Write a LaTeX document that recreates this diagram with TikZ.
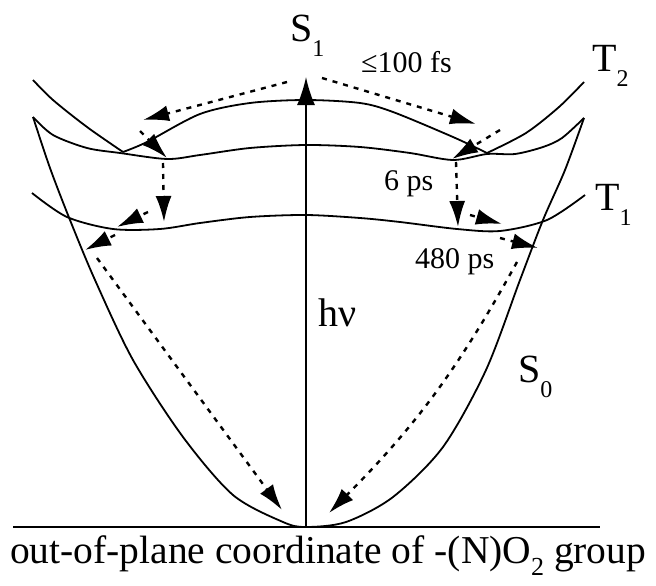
\documentclass[tikz,border=0pt]{standalone}
\usepackage{fontspec}
\setmainfont{Liberation Serif}
\usepackage{tikz}
\usetikzlibrary{arrows.meta}
\newcommand{\stlbl}[2]{#1\raisebox{-15pt}{\fontsize{24}{24}\selectfont #2}}

\begin{document}
\begin{tikzpicture}[x=1pt, y=-1pt,
  pes/.style={line width=1.8pt, line join=round},
  decay/.style={line width=2.4pt, dash pattern=on 5pt off 6pt, -{Latex[length=26pt,width=16pt]}},
  big/.style={font=\rmfamily\fontsize{40}{44}\selectfont, inner sep=0pt, anchor=base west},
  small/.style={font=\rmfamily\fontsize{30}{34}\selectfont, inner sep=0pt, anchor=base west}]
\useasboundingbox (0,0) rectangle (656,586);
% potential energy curves
\draw[pes] (13,527) -- (600,527);
\draw[pes] plot[smooth] coordinates {(33,117) (50,168) (70,220) (95,280) (133,360) (183,437) (233,495) (283,522) (306,527) (346,522) (393,497) (443,447) (486,370) (520,280) (543,220) (565,170) (584,118)};
\draw[pes] plot[smooth] coordinates {(32,193) (67,217) (113,229) (160,229) (200,223) (250,217) (306,215) (360,218) (400,222) (457,229) (500,231) (547,220) (585,195)};
\draw[pes] plot[smooth] coordinates {(33,117) (53,135) (87,148) (120,153) (167,159) (200,155) (250,148) (306,145) (360,147) (410,153) (453,160) (487,154) (515,154) (543,147) (562,138) (584,118)};
\draw[pes] plot[smooth] coordinates {(33,80) (53,100) (87,127) (123,152)};
\draw[pes] plot[smooth] coordinates {(123,152) (147,142) (200,114) (250,103) (306,100) (360,103) (393,112) (453,137) (487,153)};
\draw[pes] plot[smooth] coordinates {(487,153) (526,133) (559,107) (584,82)};
% arrow end points
\coordinate (gs) at (306,527);
\coordinate (fc) at (306,77);
\coordinate (fcl) at (287,82);
\coordinate (fcr) at (322,78);
\coordinate (isl) at (143,120);
\coordinate (isr) at (476,124);
\coordinate (dl) at (140,131);
\coordinate (tl) at (167,158);
\coordinate (dr) at (500,130);
\coordinate (tr) at (452,159);
\coordinate (vl) at (163,163);
\coordinate (vlb) at (164,222);
\coordinate (vr) at (456,162);
\coordinate (vrb) at (458,227);
\coordinate (al) at (148,212);
\coordinate (alb) at (117,227);
\coordinate (ar) at (470,215);
\coordinate (arb) at (502,224);
\coordinate (bl) at (115,235);
\coordinate (blb) at (85,250);
\coordinate (br) at (500,238);
\coordinate (brb) at (538,248);
\coordinate (sl) at (97,258);
\coordinate (gsl) at (282,510);
\coordinate (sr) at (517,262);
\coordinate (gsr) at (329,513);
\draw[line width=1.8pt, -{Latex[length=28pt,width=18pt]}] (gs) -- (fc);
\draw[decay] (fcl) -- (isl);
\draw[decay] (fcr) -- (isr);
\draw[decay] (dl) -- (tl);
\draw[decay] (dr) -- (tr);
\draw[decay] (vl) -- (vlb);
\draw[decay] (vr) -- (vrb);
\draw[decay] (al) -- (alb);
\draw[decay] (ar) -- (arb);
\draw[decay] (bl) -- (blb);
\draw[decay] (br) -- (brb);
\draw[decay] (sl) -- (gsl);
\draw[decay] (sr) to[bend left=8] (gsr);
% labels
\node[big] (lblS1) at (290,42) {\stlbl{S}{1}};
\node[big] (lblT2) at (592,72) {\stlbl{T}{2}};
\node[big] (lblT1) at (595,210) {\stlbl{T}{1}};
\node[big] (lblS0) at (518,382) {\stlbl{S}{0}};
\node[big] (lblhv) at (318,326) {hν};
\node[small] (lblfs) at (361,73) {≤100 fs};
\node[small] (lblsix) at (384,190) {6 ps};
\node[small] (lblfour) at (415,268) {480 ps};
\node[font=\rmfamily\fontsize{39.5}{44}\selectfont, inner sep=0pt, anchor=base west] (lblaxis) at (10,563) {out-of-plane coordinate of -(N)O\raisebox{-12pt}{\fontsize{26}{26}\selectfont 2} group};
\end{tikzpicture}
\end{document}
